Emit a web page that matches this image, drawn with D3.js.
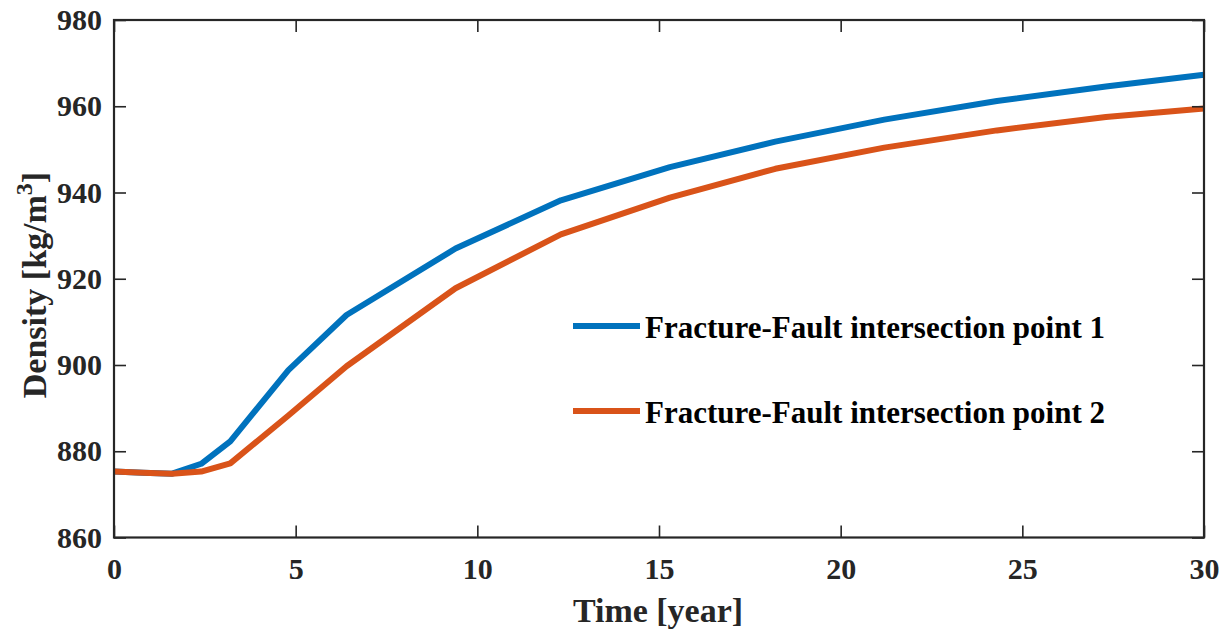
<!DOCTYPE html>
<html>
<head>
<meta charset="utf-8">
<script src="https://cdn.jsdelivr.net/npm/d3@7"></script>
<style>
  html, body { margin: 0; padding: 0; background: #fff; }
  svg { display: block; }
  text { font-family: "Liberation Serif", "Times New Roman", serif; font-weight: bold; fill: #262626; }
</style>
</head>
<body>
<svg id="chart" width="1230" height="634"></svg>
<script>
// Simulation output times (years)
const timeYears = [0, 0.8, 1.6, 2.4, 3.2, 4.8, 6.4, 9.4, 12.3, 15.3, 18.2, 21.2, 24.3, 27.3, 30];
// Fluid density at each fracture-fault intersection point (kg/m^3)
const densityPoint1 = [875.3, 875.0, 874.8, 877.1, 882.3, 898.8, 911.6, 927.0, 938.2, 945.9, 951.8, 956.9, 961.2, 964.6, 967.3];
const densityPoint2 = [875.3, 875.0, 874.8, 875.3, 877.2, 888.3, 899.7, 917.8, 930.3, 938.8, 945.5, 950.4, 954.4, 957.5, 959.5];
const seriesNames = ["Fracture-Fault intersection point 1", "Fracture-Fault intersection point 2"];
const seriesColors = ["#0072BD", "#D95319"];
const xTicks = [0, 5, 10, 15, 20, 25, 30];
const yTicks = [860, 880, 900, 920, 940, 960, 980];

const svg = d3.select("#chart");
const plot = { left: 114, right: 1204, top: 20, bottom: 537.5 };

const x = d3.scaleLinear().domain([0, 30]).range([plot.left, plot.right]);
const y = d3.scaleLinear().domain([860, 980]).range([plot.bottom, plot.top]);

const axisColor = "#262626";
const tickLen = 12;

// Curves
const series = [densityPoint1, densityPoint2];
const line = d3.line().x(d => x(d[0])).y(d => y(d[1]));
const curves = svg.append("g");
series.forEach((vals, i) => {
  curves.append("path")
    .datum(timeYears.map((t, k) => [t, vals[k]]))
    .attr("d", line)
    .attr("fill", "none")
    .attr("stroke", seriesColors[i])
    .attr("stroke-width", 6)
    .attr("stroke-linejoin", "round");
});

// Axes: ticks pointing inward on all four sides
function styleAxis(g) {
  g.selectAll(".domain").remove();
  g.selectAll(".tick line").attr("stroke", axisColor).attr("stroke-width", 1.6);
  g.selectAll(".tick text").attr("fill", axisColor).style("font-size", "30px");
}

const gx = svg.append("g")
  .attr("transform", `translate(0,${plot.bottom})`)
  .call(d3.axisBottom(x).tickValues(xTicks).tickFormat(d3.format("d"))
    .tickSizeInner(-tickLen).tickSizeOuter(0));
styleAxis(gx);
gx.selectAll(".tick text").attr("y", 41).attr("dy", null);

const gy = svg.append("g")
  .attr("transform", `translate(${plot.left},0)`)
  .call(d3.axisLeft(y).tickValues(yTicks).tickFormat(d3.format("d"))
    .tickSizeInner(-tickLen).tickSizeOuter(0));
styleAxis(gy);
gy.selectAll(".tick text").attr("x", -12);

const gTop = svg.append("g")
  .attr("transform", `translate(0,${plot.top})`)
  .call(d3.axisTop(x).tickValues(xTicks).tickFormat("").tickSizeInner(-tickLen).tickSizeOuter(0));
styleAxis(gTop);

const gRight = svg.append("g")
  .attr("transform", `translate(${plot.right},0)`)
  .call(d3.axisRight(y).tickValues(yTicks).tickFormat("").tickSizeInner(-tickLen).tickSizeOuter(0));
styleAxis(gRight);

// Box
svg.append("rect")
  .attr("x", plot.left).attr("y", plot.top)
  .attr("width", plot.right - plot.left).attr("height", plot.bottom - plot.top)
  .attr("fill", "none").attr("stroke", axisColor).attr("stroke-width", 2.2);

// Axis titles
svg.append("text")
  .attr("x", (plot.left + plot.right) / 2 - 1).attr("y", 622)
  .attr("text-anchor", "middle").style("font-size", "34px")
  .text("Time [year]");

const yTitle = svg.append("text")
  .attr("transform", `translate(46,285) rotate(-90)`)
  .attr("text-anchor", "middle").style("font-size", "34px");
yTitle.append("tspan").text("Density [kg/m");
yTitle.append("tspan").attr("dy", "-0.6em").style("font-size", "24px").text("3");
yTitle.append("tspan").attr("dy", "0.42em").text("]");

// Legend
const legend = svg.append("g");
const legendY = [326, 411];
seriesNames.forEach((name, i) => {
  legend.append("line")
    .attr("x1", 573).attr("x2", 640)
    .attr("y1", legendY[i]).attr("y2", legendY[i])
    .attr("stroke", seriesColors[i]).attr("stroke-width", 6);
  legend.append("text")
    .attr("x", 645).attr("y", legendY[i] + 12)
    .style("font-size", "31px").style("fill", "#000")
    .text(name);
});
</script>
</body>
</html>
